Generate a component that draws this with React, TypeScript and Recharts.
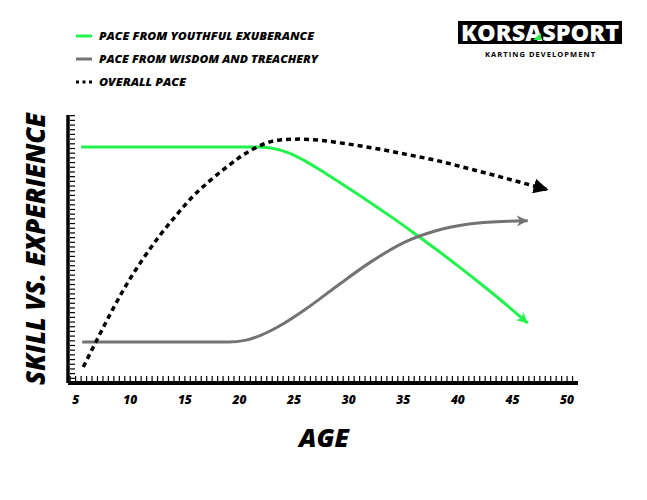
import { LineChart, Line, XAxis, YAxis } from 'recharts'

// ages and pace values
const youthAges = [5.5, 21.6, 23, 24.5, 26, 28, 30, 32, 34, 36, 38, 40, 42, 44, 46.4]
const youthPace = [88.1, 88.1, 87.6, 85.9, 82.9, 77.9, 72.7, 67.3, 61.7, 55.9, 49.9, 43.7, 37.3, 30.7, 22.3]

const wisdomAges = [5.6, 19, 20.5, 22, 23.5, 26, 29, 32, 35, 38, 41, 44, 46.4]
const wisdomPace = [15.3, 15.3, 15.9, 17.9, 20.9, 27.4, 36.4, 45.1, 52.3, 56.8, 59.3, 60.3, 60.5]

const overallAges = [5.7, 7.0, 8.2, 9.7, 11.2, 12.7, 14.3, 15.7, 17.3, 18.9, 20.3, 21.9, 23.7, 25.5, 27.3, 29.2, 32.2, 35.3, 38.1, 40.8, 43.9, 48.3]
const overallPace = [6, 16.5, 26, 37, 46.5, 55, 63, 69.5, 75.5, 80.8, 85, 88.6, 90.7, 91.0, 90.6, 89.6, 87.7, 85.3, 83.0, 80.2, 76.9, 72.0]

const ageLabels = [5, 10, 15, 20, 25, 30, 35, 40, 45, 50]

const legendItems = [
  { label: 'PACE FROM YOUTHFUL EXUBERANCE', color: '#22f24c', kind: 'solid', width: 215 },
  { label: 'PACE FROM WISDOM AND TREACHERY', color: '#737373', kind: 'solid', width: 219 },
  { label: 'OVERALL PACE', color: '#000000', kind: 'dots', width: 87 },
]

const GREEN = '#22f24c'
const GRAY = '#737373'
const FONT = '"Open Sans", Lato, sans-serif'

const toRows = (ages: number[], pace: number[]) => ages.map((age, i) => ({ age, pace: pace[i] }))

// minor tick marks along both axes
const xMinor: number[] = []
for (let a = 4.5; a <= 50.6; a += 0.5) xMinor.push(Math.round(a * 10) / 10)
const yMinor: number[] = []
for (let v = 0; v <= 100; v += 1.75) yMinor.push(v)

function AgeTick({ x, y, payload }: any) {
  const v = payload.value
  return (
    <g>
      <line x1={x} x2={x} y1={y - 2} y2={y - 7} stroke="#000" strokeWidth={1.2} />
      {ageLabels.includes(v) && (
        <text
          x={x}
          y={y + 21}
          textAnchor="middle"
          fontFamily={FONT}
          fontWeight={800}
          fontStyle="italic"
          fontSize={12}
          fill="#000"
        >
          {v}
        </text>
      )}
    </g>
  )
}

function PaceTick({ x, y }: any) {
  return <line x1={x + 2} x2={x + 7} y1={y} y2={y} stroke="#000" strokeWidth={1.2} />
}

export default function App() {
  const youth = toRows(youthAges, youthPace)
  const wisdom = toRows(wisdomAges, wisdomPace)
  const overall = toRows(overallAges, overallPace)

  return (
    <div style={{ position: 'absolute', left: 0, top: 0, width: 647, height: 500, background: '#fff' }}>
      <LineChart width={647} height={500} margin={{ top: 115, right: 69, bottom: 87, left: 60 }}>
        <defs>
          <marker id="arrowGreen" viewBox="0 0 10 10" refX="10" refY="5" markerWidth="11" markerHeight="11" markerUnits="userSpaceOnUse" orient="auto">
            <path d="M0,0 L10,5 L0,10 L3,5 z" fill={GREEN} />
          </marker>
          <marker id="arrowGray" viewBox="0 0 10 10" refX="10" refY="5" markerWidth="11" markerHeight="11" markerUnits="userSpaceOnUse" orient="auto">
            <path d="M0,0 L10,5 L0,10 L3,5 z" fill={GRAY} />
          </marker>
          <marker id="arrowBlack" viewBox="0 0 10 10" refX="10" refY="5" markerWidth="15" markerHeight="15" markerUnits="userSpaceOnUse" orient="auto">
            <path d="M0,0 L10,5 L0,10 z" fill="#000" />
          </marker>
        </defs>
        <XAxis
          dataKey="age"
          type="number"
          domain={[4.3, 51]}
          allowDataOverflow
          ticks={xMinor}
          interval={0}
          tick={<AgeTick />}
          tickLine={false}
          tickSize={0}
          tickMargin={0}
          height={30}
          axisLine={{ stroke: '#000', strokeWidth: 4 }}
        />
        <YAxis
          type="number"
          domain={[0, 100]}
          allowDataOverflow
          ticks={yMinor}
          interval={0}
          tick={<PaceTick />}
          tickLine={false}
          tickSize={0}
          tickMargin={0}
          width={8}
          axisLine={{ stroke: '#000', strokeWidth: 3.5 }}
        />
        <Line
          data={youth}
          dataKey="pace"
          type="monotone"
          stroke={GREEN}
          strokeWidth={3}
          dot={false}
          activeDot={false}
          markerEnd="url(#arrowGreen)"
          isAnimationActive={false}
        />
        <Line
          data={wisdom}
          dataKey="pace"
          type="monotone"
          stroke={GRAY}
          strokeWidth={3}
          dot={false}
          activeDot={false}
          markerEnd="url(#arrowGray)"
          isAnimationActive={false}
        />
        <Line
          data={overall}
          dataKey="pace"
          type="monotone"
          stroke="#000"
          strokeWidth={3.5}
          strokeDasharray="5 4"
          dot={false}
          activeDot={false}
          markerEnd="url(#arrowBlack)"
          isAnimationActive={false}
        />
      </LineChart>

      <svg width={647} height={500} style={{ position: 'absolute', left: 0, top: 0, pointerEvents: 'none' }}>
        {/* legend */}
        {legendItems.map((item, i) => {
          const cy = 36 + i * 23
          return (
            <g key={item.label}>
              {item.kind === 'solid' ? (
                <line x1={76} x2={92} y1={cy} y2={cy} stroke={item.color} strokeWidth={3} />
              ) : (
                <line x1={76} x2={92} y1={cy} y2={cy} stroke={item.color} strokeWidth={3} strokeDasharray="3 3.5" />
              )}
              <text
                x={99}
                y={cy + 4}
                textLength={item.width}
                lengthAdjust="spacingAndGlyphs"
                fontFamily={FONT}
                fontWeight={800}
                fontStyle="italic"
                fontSize={11}
                fill="#000"
              >
                {item.label}
              </text>
            </g>
          )
        })}

        {/* logo */}
        <rect x={458} y={21} width={164} height={23} fill="#000" />
        <text
          x={461}
          y={40.5}
          textLength={158}
          lengthAdjust="spacingAndGlyphs"
          fontFamily={FONT}
          fontWeight={800}
          fontSize={23}
          fill="#fff"
        >
          KORSASPORT
        </text>
        <path d="M533,40 L541,33 L541,40 z" fill={GREEN} />
        <text
          x={540}
          y={57}
          textAnchor="middle"
          textLength={110}
          lengthAdjust="spacing"
          fontFamily={FONT}
          fontWeight={700}
          fontSize={7.5}
          fill="#000"
        >
          KARTING DEVELOPMENT
        </text>

        {/* axis titles */}
        <text
          transform="translate(45,249) rotate(-90)"
          textAnchor="middle"
          textLength={272}
          lengthAdjust="spacingAndGlyphs"
          fontFamily={FONT}
          fontWeight={800}
          fontStyle="italic"
          fontSize={27}
          fill="#000"
        >
          SKILL VS. EXPERIENCE
        </text>
        <text
          x={324}
          y={447}
          textAnchor="middle"
          textLength={50}
          lengthAdjust="spacingAndGlyphs"
          fontFamily={FONT}
          fontWeight={800}
          fontStyle="italic"
          fontSize={25}
          fill="#000"
        >
          AGE
        </text>
      </svg>
    </div>
  )
}
